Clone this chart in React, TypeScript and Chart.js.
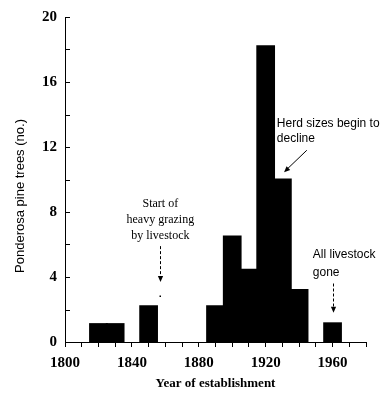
import React, { useEffect, useRef } from 'react';
import { Chart, registerables } from 'chart.js';

Chart.register(...registerables);

// Bin centres (10-year classes) and number of trees established
const years = [1820, 1830, 1850, 1890, 1900, 1910, 1920, 1930, 1940, 1960];
const counts = [1.1, 1.1, 2.2, 2.2, 6.5, 4.45, 18.2, 10, 3.2, 1.15];

const xTickLabels = [1800, 1840, 1880, 1920, 1960];
const yTickLabels = [0, 4, 8, 12, 16, 20];

const xTitle = 'Year of establishment';
const yTitle = 'Ponderosa pine trees (no.)';

// Annotation texts, anchored in data coordinates (year, count)
const grazingLines = ['Start of', 'heavy grazing', 'by livestock'];
const grazingAnchor = { x: 1857, y: 8.5 };
const grazingArrow = { x: 1857, from: 5.9, to: 3.7, dot: 2.8 };

const herdLines = ['Herd sizes begin to', 'decline'];
const herdAnchor = { x: 1926.7, y: 13.45 };
const herdArrow = { x1: 1944.6, y1: 11.8, x2: 1931, y2: 10.45 };

const goneLines = ['All livestock', 'gone'];
const goneAnchor = { x: 1948.2, y: 5.35 };
const goneArrow = { x: 1960, from: 3.6, to: 1.8 };

const SERIF = '"Liberation Serif", "DejaVu Serif", serif';
const SANS = '"Liberation Sans", "DejaVu Sans", sans-serif';

function arrowHead(ctx: CanvasRenderingContext2D, x1: number, y1: number, x2: number, y2: number) {
  const ang = Math.atan2(y2 - y1, x2 - x1);
  const len = 6;
  const w = 2.6;
  ctx.beginPath();
  ctx.moveTo(x2, y2);
  ctx.lineTo(x2 - len * Math.cos(ang) + w * Math.sin(ang), y2 - len * Math.sin(ang) - w * Math.cos(ang));
  ctx.lineTo(x2 - len * Math.cos(ang) - w * Math.sin(ang), y2 - len * Math.sin(ang) + w * Math.cos(ang));
  ctx.closePath();
  ctx.fill();
}

const decorPlugin = {
  id: 'decor',
  afterDraw(chart: any) {
    const ctx: CanvasRenderingContext2D = chart.ctx;
    const xs = chart.scales.x;
    const ys = chart.scales.y;
    ctx.save();
    ctx.strokeStyle = '#000';
    ctx.fillStyle = '#000';
    ctx.lineWidth = 1;

    // inward y ticks
    ys.ticks.forEach((t: any) => {
      const py = Math.round(ys.getPixelForValue(t.value)) + 0.5;
      ctx.beginPath();
      ctx.moveTo(xs.left, py);
      ctx.lineTo(xs.left + 5, py);
      ctx.stroke();
    });

    // y title
    ctx.save();
    ctx.translate(20, 196);
    ctx.rotate(-Math.PI / 2);
    ctx.font = `13px ${SANS}`;
    ctx.textAlign = 'center';
    ctx.textBaseline = 'middle';
    ctx.fillText(yTitle, 0, 0);
    ctx.restore();

    ctx.textBaseline = 'middle';

    // grazing annotation
    ctx.font = `12px ${SERIF}`;
    ctx.textAlign = 'center';
    const gx = xs.getPixelForValue(grazingAnchor.x);
    const gy = ys.getPixelForValue(grazingAnchor.y);
    grazingLines.forEach((s, i) => ctx.fillText(s, gx, gy + i * 16));
    const ax = Math.round(xs.getPixelForValue(grazingArrow.x)) + 0.5;
    const ay1 = ys.getPixelForValue(grazingArrow.from);
    const ay2 = ys.getPixelForValue(grazingArrow.to);
    ctx.setLineDash([3, 2]);
    ctx.beginPath();
    ctx.moveTo(ax, ay1);
    ctx.lineTo(ax, ay2 - 4);
    ctx.stroke();
    ctx.setLineDash([]);
    arrowHead(ctx, ax, ay1, ax, ay2);
    ctx.fillRect(ax - 1, ys.getPixelForValue(grazingArrow.dot) - 1, 1.5, 1.5);

    // herd annotation
    ctx.font = `12px ${SANS}`;
    ctx.textAlign = 'left';
    const hx = xs.getPixelForValue(herdAnchor.x);
    const hy = ys.getPixelForValue(herdAnchor.y);
    herdLines.forEach((s, i) => ctx.fillText(s, hx, hy + i * 15));
    const hx1 = xs.getPixelForValue(herdArrow.x1);
    const hy1 = ys.getPixelForValue(herdArrow.y1);
    const hx2 = xs.getPixelForValue(herdArrow.x2);
    const hy2 = ys.getPixelForValue(herdArrow.y2);
    ctx.beginPath();
    ctx.moveTo(hx1, hy1);
    ctx.lineTo(hx2 + 3, hy2 - 3);
    ctx.stroke();
    arrowHead(ctx, hx1, hy1, hx2, hy2);

    // gone annotation
    const ox = xs.getPixelForValue(goneAnchor.x);
    const oy = ys.getPixelForValue(goneAnchor.y);
    goneLines.forEach((s, i) => ctx.fillText(s, ox, oy + i * 18));
    const bx = Math.round(xs.getPixelForValue(goneArrow.x)) + 0.5;
    const by1 = ys.getPixelForValue(goneArrow.from);
    const by2 = ys.getPixelForValue(goneArrow.to);
    ctx.setLineDash([3, 2]);
    ctx.beginPath();
    ctx.moveTo(bx, by1);
    ctx.lineTo(bx, by2 - 4);
    ctx.stroke();
    ctx.setLineDash([]);
    arrowHead(ctx, bx, by1, bx, by2);

    ctx.restore();
  },
};

export default function App() {
  const ref = useRef<HTMLCanvasElement>(null);

  useEffect(() => {
    if (!ref.current) return;
    const chart = new Chart(ref.current, {
      type: 'bar',
      data: {
        datasets: [
          {
            data: years.map((x, i) => ({ x, y: counts[i] })),
            backgroundColor: '#000',
            borderWidth: 0,
            inflateAmount: 1,
            barPercentage: 1,
            categoryPercentage: 1,
          },
        ],
      },
      options: {
        animation: false,
        responsive: false,
        maintainAspectRatio: false,
        layout: { padding: { left: 0, right: 16, top: 16, bottom: 0 } },
        plugins: {
          legend: { display: false },
          tooltip: { enabled: false },
        },
        scales: {
          x: {
            type: 'linear',
            min: 1800,
            max: 1980,
            offset: false,
            grid: { offset: false, drawOnChartArea: false, drawTicks: true, tickLength: 5, color: '#000' },
            border: { display: true, color: '#000', width: 1 },
            ticks: {
              stepSize: 10,
              autoSkip: false,
              maxRotation: 0,
              padding: 7,
              color: '#000',
              font: { family: SERIF, size: 15, weight: 'bold' },
              callback: (v: any) => (xTickLabels.includes(Number(v)) ? String(v) : ''),
            },
            title: {
              display: true,
              text: xTitle,
              color: '#000',
              font: { family: SERIF, size: 13, weight: 'bold' },
              padding: { top: 0, bottom: 3 },
            },
            afterFit: (s: any) => {
              s.height = 52;
            },
          },
          y: {
            min: 0,
            max: 20,
            grid: { drawOnChartArea: false, drawTicks: false },
            border: { display: true, color: '#000', width: 1 },
            ticks: {
              stepSize: 2,
              autoSkip: false,
              padding: 8,
              color: '#000',
              font: { family: SERIF, size: 15, weight: 'bold' },
              callback: (v: any) => (yTickLabels.includes(Number(v)) ? String(v) : ''),
            },
            afterFit: (s: any) => {
              s.width = 65;
            },
          },
        },
      },
      plugins: [decorPlugin],
    } as any);
    return () => chart.destroy();
  }, []);

  return (
    <div style={{ position: 'fixed', left: 0, top: 0, width: 382, height: 394, background: '#fff' }}>
      <canvas ref={ref} width={382} height={394} style={{ width: 382, height: 394 }} />
    </div>
  );
}
